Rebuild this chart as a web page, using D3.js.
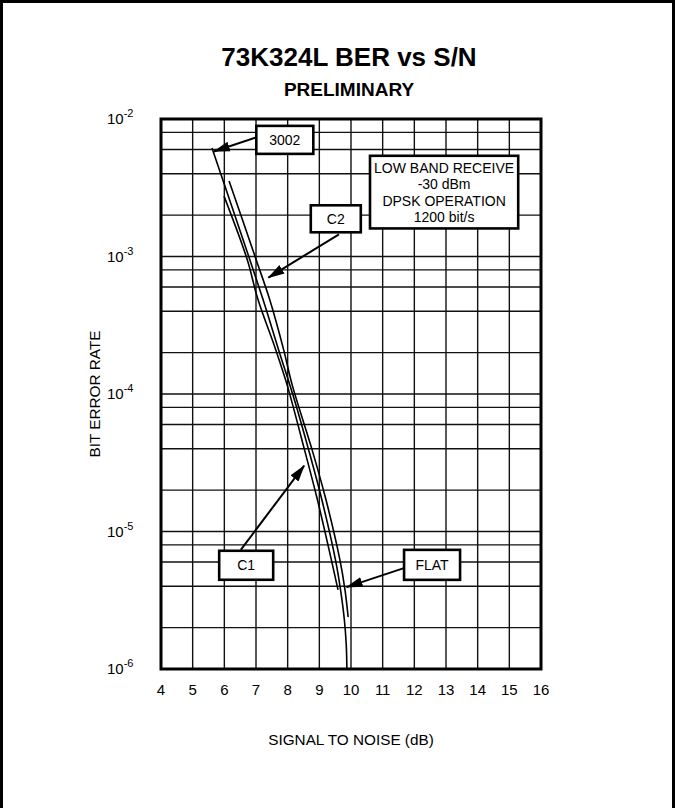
<!DOCTYPE html>
<html>
<head>
<meta charset="utf-8">
<script src="https://cdn.jsdelivr.net/npm/d3@7"></script>
<style>
  body { margin: 0; background: #fff; }
  text { font-family: "Liberation Sans", Arial, Helvetica, sans-serif; fill: #000; }
</style>
</head>
<body>
<div id="chart"></div>
<script>
// S/N axis (dB) and BER axis values
var snTicks = [4, 5, 6, 7, 8, 9, 10, 11, 12, 13, 14, 15, 16];
var berDecades = [1e-2, 1e-3, 1e-4, 1e-5, 1e-6];
var decadeExp = ["-2", "-3", "-4", "-5", "-6"];
var minorSteps = [8, 6, 4, 2];

// curves: [S/N dB, BER]
var curve3002 = [[5.61, 6.15e-3], [6.80, 9.55e-4], [7.22, 4.88e-4], [7.71, 2.11e-4], [8.21, 9.12e-5],
  [8.66, 3.94e-5], [9.08, 1.7e-5], [9.51, 6.22e-6], [9.67, 3.76e-6], [9.79, 2.28e-6], [9.85, 1.5e-6],
  [9.87, 1.0e-6]];
var curveC1 = [[5.99, 2.75e-3], [6.72, 9.55e-4], [7.06, 4.88e-4], [7.62, 2.11e-4], [7.98, 1.17e-4],
  [8.53, 3.94e-5], [8.94, 1.7e-5], [9.38, 6.22e-6], [9.59, 3.76e-6]];
var curveC2 = [[6.15, 3.54e-3], [7.00, 9.55e-4], [7.43, 4.88e-4], [7.87, 2.11e-4], [8.14, 1.17e-4],
  [8.77, 3.94e-5], [9.21, 1.7e-5], [9.65, 6.22e-6], [9.81, 3.76e-6], [9.91, 2.39e-6]];

// callout boxes: label, box centre, arrow tail, arrow tip (data coords)
var calloutLabels = ["3002", "C2", "C1", "FLAT"];
var calloutCentres = [[7.91, 7.05e-3], [9.52, 1.88e-3], [6.69, 5.68e-6], [12.56, 5.72e-6]];
var calloutTails = [[7.0, 7.33e-3], [9.62, 1.45e-3], [6.52, 7.36e-6], [11.67, 5.42e-6]];
var calloutTips = [[5.67, 5.8e-3], [7.39, 7.02e-4], [8.52, 3.01e-5], [9.86, 3.94e-6]];

var noteLines = ["LOW BAND RECEIVE", "-30 dBm", "DPSK OPERATION", "1200 bit/s"];
var noteCorners = [[10.6, 5.4e-3], [15.28, 1.6e-3]];

var W = 675, H = 808,
    pLeft = 161, pRight = 541, pTop = 119, pBottom = 669;

var svg = d3.select("#chart")
  .append("svg")
  .attr("width", W)
  .attr("height", H);

svg.append("defs").append("marker")
  .attr("id", "head")
  .attr("markerUnits", "userSpaceOnUse")
  .attr("markerWidth", 17)
  .attr("markerHeight", 11)
  .attr("refX", 16)
  .attr("refY", 5.5)
  .attr("orient", "auto")
  .append("path")
  .attr("d", "M0,0.5L17,5.5L0,10.5z")
  .attr("fill", "#000");

// page border
svg.append("rect")
  .attr("x", 1.5).attr("y", 1.5)
  .attr("width", W - 3).attr("height", H + 20)
  .attr("fill", "none").attr("stroke", "#000").attr("stroke-width", 3);

var x = d3.scaleLinear().domain([4, 16]).range([pLeft, pRight]);
var y = d3.scaleLog().domain([1e-6, 1e-2]).range([pBottom, pTop]);

// titles
svg.append("text")
  .attr("x", 349).attr("y", 66)
  .attr("text-anchor", "middle")
  .attr("font-size", 26).attr("font-weight", "bold")
  .text("73K324L BER vs S/N");
svg.append("text")
  .attr("x", 349).attr("y", 96)
  .attr("text-anchor", "middle")
  .attr("font-size", 19).attr("font-weight", "bold")
  .text("PRELIMINARY");

// grid
var hLines = [];
berDecades.forEach(function(d, i) {
  hLines.push(d);
  if (i < berDecades.length - 1) {
    minorSteps.forEach(function(m) { hLines.push(d / 10 * m); });
  }
});

var grid = svg.append("g");
grid.selectAll(".v")
  .data(snTicks.slice(1, -1))
  .enter()
  .append("line")
  .attr("x1", function(d) { return x(d); })
  .attr("x2", function(d) { return x(d); })
  .attr("y1", pTop).attr("y2", pBottom)
  .attr("stroke", "#111").attr("stroke-width", 1.4);
grid.selectAll(".h")
  .data(hLines)
  .enter()
  .append("line")
  .attr("x1", pLeft).attr("x2", pRight)
  .attr("y1", function(d) { return y(d); })
  .attr("y2", function(d) { return y(d); })
  .attr("stroke", "#111").attr("stroke-width", 1.4);

// axis labels
svg.append("g").selectAll("text")
  .data(snTicks)
  .enter()
  .append("text")
  .attr("x", function(d) { return x(d); })
  .attr("y", pBottom + 26)
  .attr("text-anchor", "middle")
  .attr("font-size", 15)
  .text(function(d) { return d; });

var yl = svg.append("g").selectAll("text")
  .data(berDecades)
  .enter()
  .append("text")
  .attr("x", 107)
  .attr("y", function(d) { return y(d) + 5; })
  .attr("font-size", 15);
yl.append("tspan").text("10");
yl.append("tspan")
  .attr("dy", -7)
  .attr("font-size", 11)
  .text(function(d, i) { return decadeExp[i]; });

svg.append("text")
  .attr("transform", "translate(100," + ((pTop + pBottom) / 2) + ") rotate(-90)")
  .attr("text-anchor", "middle")
  .attr("font-size", 15.3)
  .text("BIT ERROR RATE");
svg.append("text")
  .attr("x", (pLeft + pRight) / 2).attr("y", 745)
  .attr("text-anchor", "middle")
  .attr("font-size", 15.3)
  .text("SIGNAL TO NOISE (dB)");

// curves
var line = d3.line()
  .x(function(d) { return x(d[0]); })
  .y(function(d) { return y(d[1]); })
  .curve(d3.curveCatmullRom.alpha(0.5));

svg.append("g").selectAll("path")
  .data([curve3002, curveC1, curveC2])
  .enter()
  .append("path")
  .attr("d", line)
  .attr("fill", "none")
  .attr("stroke", "#000")
  .attr("stroke-width", 1.6);

// frame
svg.append("rect")
  .attr("x", pLeft).attr("y", pTop)
  .attr("width", pRight - pLeft).attr("height", pBottom - pTop)
  .attr("fill", "none").attr("stroke", "#000").attr("stroke-width", 3);

// callouts
var boxW = [57, 50, 54, 56], boxH = [28, 27, 29, 30];
var co = svg.append("g");
co.selectAll("line")
  .data(calloutLabels)
  .enter()
  .append("line")
  .attr("x1", function(d, i) { return x(calloutTails[i][0]); })
  .attr("y1", function(d, i) { return y(calloutTails[i][1]); })
  .attr("x2", function(d, i) { return x(calloutTips[i][0]); })
  .attr("y2", function(d, i) { return y(calloutTips[i][1]); })
  .attr("stroke", "#000").attr("stroke-width", 2)
  .attr("marker-end", "url(#head)");
co.selectAll("rect")
  .data(calloutLabels)
  .enter()
  .append("rect")
  .attr("x", function(d, i) { return x(calloutCentres[i][0]) - boxW[i] / 2; })
  .attr("y", function(d, i) { return y(calloutCentres[i][1]) - boxH[i] / 2; })
  .attr("width", function(d, i) { return boxW[i]; })
  .attr("height", function(d, i) { return boxH[i]; })
  .attr("fill", "#fff").attr("stroke", "#000").attr("stroke-width", 2.6);
co.selectAll("text")
  .data(calloutLabels)
  .enter()
  .append("text")
  .attr("x", function(d, i) { return x(calloutCentres[i][0]); })
  .attr("y", function(d, i) { return y(calloutCentres[i][1]) + 5; })
  .attr("text-anchor", "middle")
  .attr("font-size", 14)
  .text(function(d) { return d; });

// condition note
var nx0 = x(noteCorners[0][0]), ny0 = y(noteCorners[0][1]),
    nx1 = x(noteCorners[1][0]), ny1 = y(noteCorners[1][1]);
svg.append("rect")
  .attr("x", nx0).attr("y", ny0)
  .attr("width", nx1 - nx0).attr("height", ny1 - ny0)
  .attr("fill", "#fff").attr("stroke", "#000").attr("stroke-width", 2.6);
svg.append("g").selectAll("text")
  .data(noteLines)
  .enter()
  .append("text")
  .attr("x", (nx0 + nx1) / 2)
  .attr("y", function(d, i) { return ny0 + 17 + i * 16.4; })
  .attr("text-anchor", "middle")
  .attr("font-size", 14)
  .text(function(d) { return d; });
</script>
</body>
</html>
